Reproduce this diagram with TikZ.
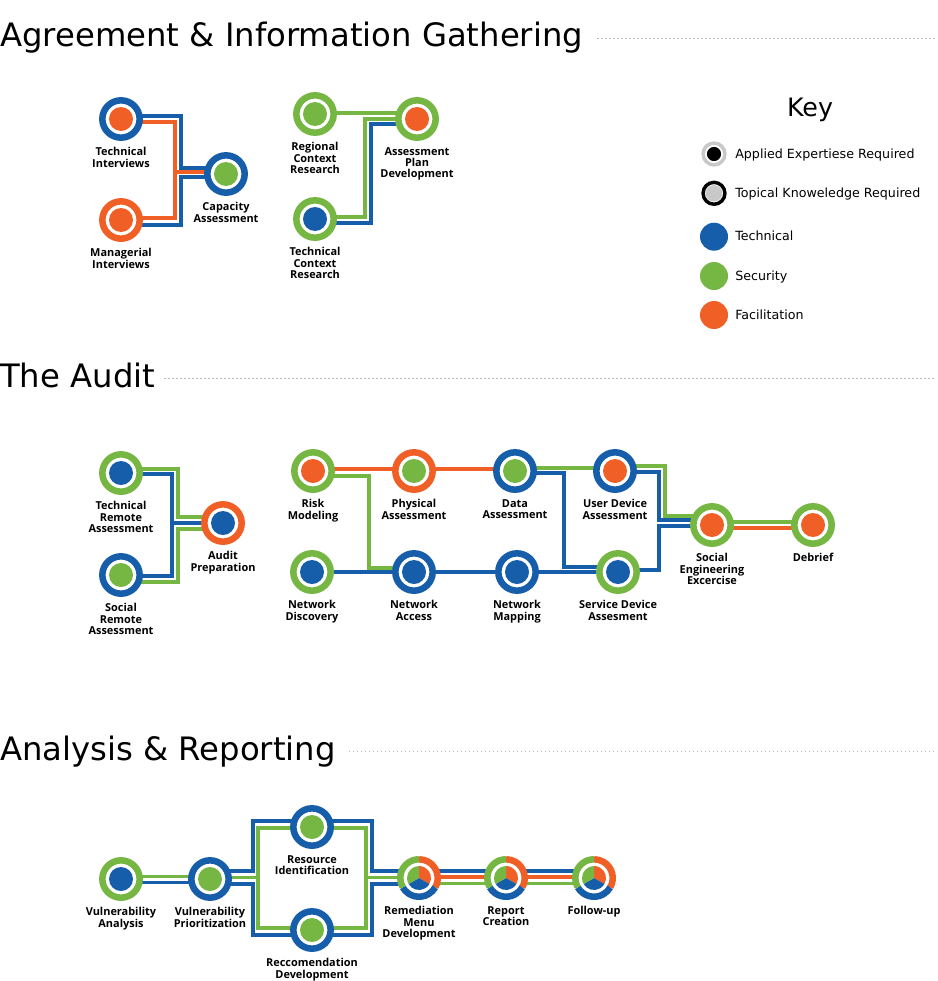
\documentclass[tikz,border=0pt]{standalone}
\usepackage{fontspec}
\setmainfont{DejaVu Sans}
\newfontfamily\stagefont{Open Sans}
\usetikzlibrary{calc,backgrounds}

\definecolor{techblue}{RGB}{22,94,170}
\definecolor{secgreen}{RGB}{118,182,66}
\definecolor{facorange}{RGB}{240,96,38}
\definecolor{keygray}{RGB}{200,200,200}

\tikzset{
  stagenode/.style 2 args={circle, draw=#1, fill=white, line width=4.9pt,
    minimum size=28pt, inner sep=0pt,
    path picture={\fill[#2] (path picture bounding box.center) circle (9pt);}},
  pienode/.style={circle, fill=white, minimum size=28pt, inner sep=0pt, outer sep=2.45pt},
  stagelabel/.style={font=\stagefont\bfseries\fontsize{8.2}{8.4}\selectfont,
    align=center, inner sep=0pt, text=black},
  keyring/.style n args={3}{circle, draw=#1, fill=white, line width=2.6pt,
    minimum size=16.4pt, inner sep=0pt,
    path picture={\fill[#2] (path picture bounding box.center) circle (#3);}},
  keydisc/.style={circle, fill=#1, minimum size=21pt, inner sep=0pt},
  keytext/.style={anchor=base west, inner sep=0pt, font=\fontsize{9.5}{11}\selectfont},
  hdr/.style={anchor=base west, inner sep=0pt, font=\fontsize{24.2}{29}\selectfont},
  hdrrule/.style={gray!55, line width=1pt, dotted},
  tline/.style={line width=2.3pt},
}

\begin{document}
\begin{tikzpicture}[x=0.75pt, y=-0.75pt, every label/.style={stagelabel}, label distance=4.8pt]
    \useasboundingbox (0,0) rectangle (938,981);

    % section headings
    \node[hdr] (agreehdr) at (0,47) {Agreement \& Information Gathering};
    \draw[hdrrule] ($(agreehdr.base east)+(14,-8.5)$) -- (936,38.5);
    \node[hdr] (audithdr) at (0,387) {The Audit};
    \draw[hdrrule] ($(audithdr.base east)+(9,-8.5)$) -- (936,378.5);
    \node[hdr] (analysishdr) at (0,760) {Analysis \& Reporting};
    \draw[hdrrule] ($(analysishdr.base east)+(13,-8.5)$) -- (936,751.5);

    % key
    \node[font=\fontsize{19}{22}\selectfont] (keytitle) at (810,110) {Key};
    \node[keyring={keygray}{black}{5.3pt}] (appliedkey) at (714,154) {};
    \node[keytext] (appliedtext) at (735,158) {Applied Expertiese Required};
    \node[keyring={black}{keygray}{6.2pt}] (topicalkey) at (714,193.3) {};
    \node[keytext] (topicaltext) at (735,197.3) {Topical Knoweledge Required};
    \node[keydisc=techblue] (techkey) at (714,236.7) {};
    \node[keytext] (techtext) at (735,240.7) {Technical};
    \node[keydisc=secgreen] (seckey) at (714,276) {};
    \node[keytext] (sectext) at (735,280) {Security};
    \node[keydisc=facorange] (fackey) at (714,315) {};
    \node[keytext] (factext) at (735,319) {Facilitation};

    % Agreement & Information Gathering
    \node[stagenode={techblue}{facorange}, label=below:{Technical\\Interviews}] (techint) at (121,119) {};
    \node[stagenode={techblue}{secgreen}, label=below:{Capacity\\Assessment}] (capacity) at (226,174) {};
    \node[stagenode={facorange}{facorange}, label=below:{Managerial\\Interviews}] (manint) at (121,220) {};
    \node[stagenode={secgreen}{secgreen}, label=below:{Regional\\Context\\Research}] (regional) at (315,114) {};
    \node[stagenode={secgreen}{facorange}, label=below:{Assessment\\Plan\\Development}] (plan) at (417,119) {};
    \node[stagenode={secgreen}{techblue}, label=below:{Technical\\Context\\Research}] (tcr) at (315,219) {};

    % The Audit
    \node[stagenode={secgreen}{techblue}, label=below:{Technical\\Remote\\Assessment}] (tra) at (121,473) {};
    \node[stagenode={techblue}{secgreen}, label=below:{Social\\Remote\\Assessment}] (sra) at (121,575) {};
    \node[stagenode={facorange}{techblue}, label=below:{Audit\\Preparation}] (auditprep) at (223,523) {};
    \node[stagenode={secgreen}{facorange}, label=below:{Risk\\Modeling}] (riskmod) at (313,471) {};
    \node[stagenode={facorange}{secgreen}, label=below:{Physical\\Assessment}] (physical) at (414,471) {};
    \node[stagenode={techblue}{secgreen}, label=below:{Data\\Assessment}] (data) at (515,471) {};
    \node[stagenode={techblue}{facorange}, label=below:{User Device\\Assessment}] (userdev) at (615,471) {};
    \node[stagenode={secgreen}{techblue}, label=below:{Network\\Discovery}] (netdisc) at (312,572) {};
    \node[stagenode={techblue}{techblue}, label=below:{Network\\Access}] (netacc) at (414,572) {};
    \node[stagenode={techblue}{techblue}, label=below:{Network\\Mapping}] (netmap) at (517,572) {};
    \node[stagenode={secgreen}{techblue}, label=below:{Service Device\\Assesment}] (servdev) at (618,572) {};
    \node[stagenode={secgreen}{facorange}, label=below:{Social\\Engineering\\Excercise}] (socialeng) at (712,525) {};
    \node[stagenode={secgreen}{facorange}, label=below:{Debrief}] (debrief) at (813,525) {};

    % Analysis & Reporting
    \node[stagenode={secgreen}{techblue}, label=below:{Vulnerability\\Analysis}] (vulnan) at (121,879) {};
    \node[stagenode={techblue}{secgreen}, label=below:{Vulnerability\\Prioritization}] (vulnpri) at (210,879) {};
    \node[stagenode={techblue}{secgreen}, label=below:{Resource\\Identification}] (resource) at (312,827) {};
    \node[stagenode={techblue}{secgreen}, label=below:{Reccomendation\\Development}] (recomm) at (312,930) {};
    \node[pienode, label=below:{Remediation\\Menu\\Development}] (remed) at (419,878) {};
    \node[pienode, label=below:{Report\\Creation}] (report) at (506,878) {};
    \node[pienode, label=below:{Follow-up}] (followup) at (594,878) {};

    % split rings for the last three steps
    \foreach \n in {remed,report,followup}{
      \foreach \sa/\ea/\col in {-30/90/facorange, 210/330/techblue, 90/210/secgreen}{
        \draw[\col, line width=4.9pt] ($(\n.center)+(\sa:14.05pt)$)
             arc[start angle=\sa, end angle=\ea, radius=14.05pt];
        \fill[\col] (\n.center) -- ($(\n.center)+(\sa:9pt)$)
             arc[start angle=\sa, end angle=\ea, radius=9pt] -- cycle;
      }
    }

    \begin{scope}[on background layer]
    \fill[white] (0,0) rectangle (938,981);

    % tracks: agreement
    \draw[tline, techblue] ($(techint)+(0,-3)$) -| ($(capacity)+(-45,-6)$) -- ($(capacity)+(0,-6)$);
    \draw[tline, facorange] ($(techint)+(0,3)$) -| ($(manint)+(54,-2)$) -- ($(manint)+(0,-2)$);
    \draw[tline, facorange] ($(capacity)+(-51,-2)$) -- ($(capacity)+(0,-2)$);
    \draw[tline, techblue] ($(capacity)+(0,3)$) -| ($(manint)+(60,5)$) -- ($(manint)+(0,5)$);
    \draw[tline, secgreen] ($(regional)+(0,-1)$) -- ($(plan)+(0,-6)$);
    \draw[tline, secgreen] (plan) -| ($(tcr)+(50,-2)$) -- ($(tcr)+(0,-2)$);
    \draw[tline, techblue] ($(plan)+(0,5)$) -| ($(tcr)+(56,4)$) -- ($(tcr)+(0,4)$);

    % tracks: audit
    \draw[tline, secgreen] ($(tra)+(0,-4)$) -| ($(auditprep)+(-45,-6)$) -- ($(auditprep)+(0,-6)$);
    \draw[tline, techblue] ($(tra)+(0,1)$) -| ($(sra)+(51,1)$) -- ($(sra)+(0,1)$);
    \draw[tline, techblue] ($(auditprep)+(-51,0)$) -- (auditprep);
    \draw[tline, secgreen] ($(auditprep)+(0,6)$) -| ($(sra)+(57,7)$) -- ($(sra)+(0,7)$);

    \draw[tline, facorange] ($(riskmod)+(0,-2)$) -- ($(data)+(0,-2)$);
    \draw[tline, secgreen] ($(riskmod)+(0,5)$) -| ($(netacc)+(-45,-4)$) -- ($(netacc)+(0,-4)$);
    \draw[tline, techblue] (netdisc) -- (netacc) -- (netmap) -- (servdev);
    \draw[tline, secgreen] ($(data)+(0,-3)$) -- ($(userdev)+(0,-3)$);
    \draw[tline, techblue] ($(data)+(0,2)$) -| ($(servdev)+(-54,-5)$) -- ($(servdev)+(0,-5)$);
    \draw[tline, secgreen] ($(userdev)+(0,-5)$) -| ($(socialeng)+(-47,-9)$) -- ($(socialeng)+(0,-9)$);
    \draw[tline, techblue] ($(userdev)+(0,1)$) -| ($(socialeng)+(-53,-5)$) -- ($(socialeng)+(0,-5)$);
    \draw[tline, techblue] ($(servdev)+(0,-2)$) -| ($(socialeng)+(-53,1)$) -- ($(socialeng)+(0,1)$);
    \draw[tline, secgreen] ($(socialeng)+(0,-3)$) -- ($(debrief)+(0,-3)$);
    \draw[tline, facorange] ($(socialeng)+(0,3)$) -- ($(debrief)+(0,3)$);

    % tracks: analysis
    \draw[tline, secgreen] ($(vulnan)+(0,-2.5)$) -- ($(vulnpri)+(0,-2.5)$);
    \draw[tline, techblue] ($(vulnan)+(0,3.5)$) -- ($(vulnpri)+(0,3.5)$);
    \draw[tline, techblue] ($(vulnpri)+(0,-8)$) -| ($(resource)+(-59,-6)$) -| ($(remed)+(-47,-7)$) -- ($(remed)+(0,-7)$);
    \draw[tline, secgreen] ($(vulnpri)+(0,-1.5)$) -| ($(resource)+(-54,1)$) -| ($(remed)+(-53,-0.5)$) -- ($(remed)+(0,-0.5)$);
    \draw[tline, secgreen] ($(resource)+(-54,1)$) |- ($(recomm)+(0,-2)$) -| ($(remed)+(-53,-0.5)$);
    \draw[tline, techblue] ($(vulnpri)+(0,5)$) -| ($(recomm)+(-59,5)$) -| ($(remed)+(-47,6)$) -- ($(remed)+(0,6)$);
    \draw[tline, techblue] ($(remed)+(0,-7)$) -- ($(report)+(0,-7)$) -- ($(followup)+(0,-7)$);
    \draw[tline, facorange] ($(remed)+(0,-1)$) -- ($(report)+(0,-1)$) -- ($(followup)+(0,-1)$);
    \draw[tline, secgreen] ($(remed)+(0,5.5)$) -- ($(report)+(0,5.5)$) -- ($(followup)+(0,5.5)$);
    \end{scope}
\end{tikzpicture}
\end{document}
